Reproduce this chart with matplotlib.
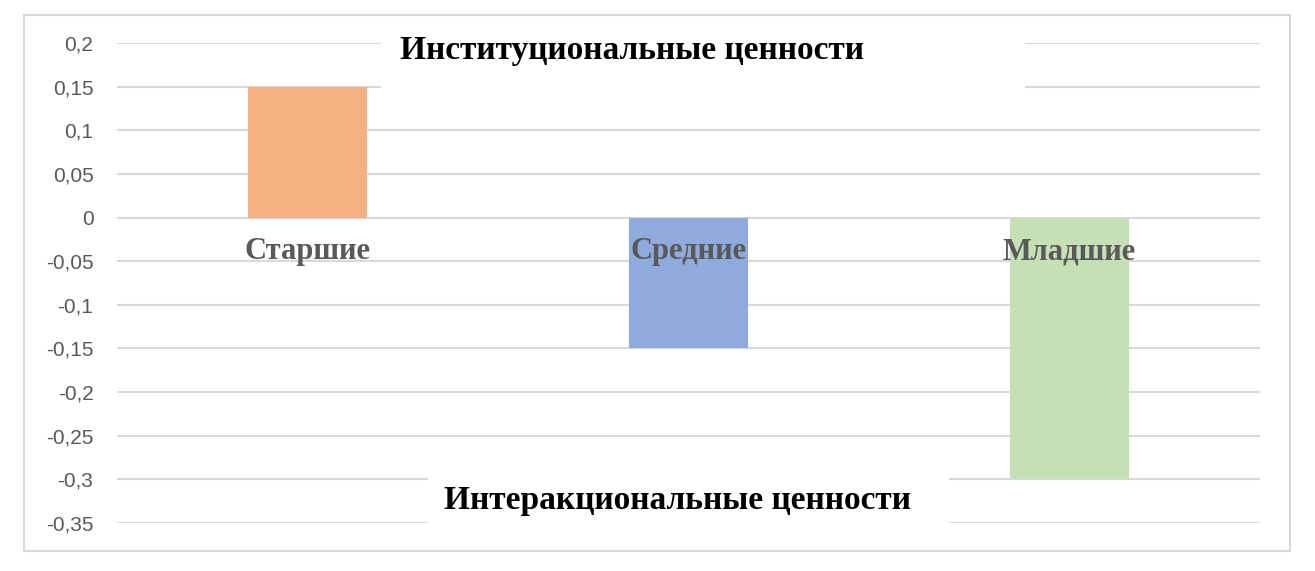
import matplotlib.pyplot as plt
from matplotlib.patches import Rectangle
from matplotlib.ticker import FuncFormatter

# data
categories = ["Старшие", "Средние", "Младшие"]
values = [0.15, -0.15, -0.3]
colors = ["#F4B183", "#8FAADC", "#C5E0B4"]
yticks = [0.2, 0.15, 0.1, 0.05, 0, -0.05, -0.1, -0.15, -0.2, -0.25, -0.3, -0.35]
top_label = "Институциональные ценности"
bottom_label = "Интеракциональные ценности"

W, H = 1315, 571
fig = plt.figure(figsize=(W / 100, H / 100), dpi=100)
fig.patch.set_facecolor("white")

# light border around the whole chart
fig.patches.append(Rectangle((24 / W, 1 - 551 / H), (1290 - 24) / W, (551 - 15) / H,
                             transform=fig.transFigure, fill=False,
                             edgecolor="#D9D9D9", linewidth=1.5))

ax = fig.add_axes([117 / W, 1 - 523 / H, (1260 - 117) / W, (523 - 43) / H])
x = list(range(len(categories)))
ax.bar(x, values, width=0.31, color=colors, zorder=3)

ax.set_xlim(-0.5, len(categories) - 0.5)
ax.set_ylim(-0.35, 0.2)
ax.set_yticks(yticks)
ax.yaxis.set_major_formatter(FuncFormatter(lambda v, p: ("%g" % round(v, 2)).replace(".", ",")))
ax.set_xticks([])
ax.tick_params(axis="y", length=0, pad=17, labelsize=15, labelcolor="#595959")
for lbl in ax.get_yticklabels():
    lbl.set_family(["Liberation Sans", "DejaVu Sans"])
ax.grid(axis="y", color="#D9D9D9", linewidth=1.5, zorder=0)
for s in ax.spines.values():
    s.set_visible(False)

serif = ["Liberation Serif", "DejaVu Serif"]

# category labels just under the zero line
for xi, name in zip(x, categories):
    ax.text(xi, -0.039, name, ha="center", va="center", fontsize=22,
            fontweight="bold", color="#595959", family=serif, zorder=5)

# white boxes that hide the gridlines behind the two captions
def px_box(x0, x1, y0, y1):
    # pixel rectangle -> figure coords
    return Rectangle((x0 / W, 1 - y1 / H), (x1 - x0) / W, (y1 - y0) / H,
                     transform=fig.transFigure, facecolor="white",
                     edgecolor="none", zorder=2)

ax.add_patch(px_box(381, 1025, 30, 100))
ax.add_patch(px_box(428, 949, 470, 532))

fig.text(632 / W, 1 - 50 / H, top_label, ha="center", va="center",
         fontsize=24, fontweight="bold", color="black", family=serif)
fig.text(678 / W, 1 - 500 / H, bottom_label, ha="center", va="center",
         fontsize=24, fontweight="bold", color="black", family=serif)

fig.savefig("out.png", dpi=100)
